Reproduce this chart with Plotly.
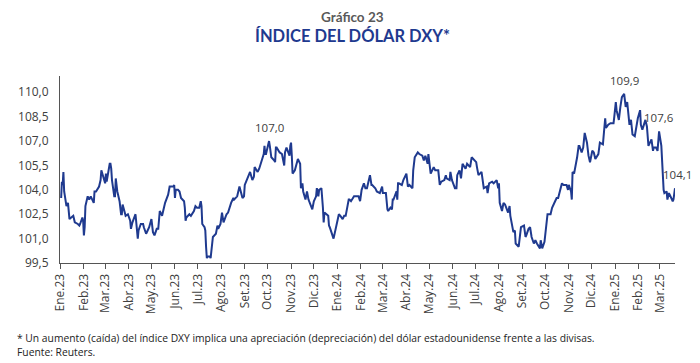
import plotly.graph_objects as go

# ---------------- DATA ----------------
fechas_2023 = ["2023-01-02","2023-01-03","2023-01-04","2023-01-05","2023-01-06","2023-01-09","2023-01-11","2023-01-12","2023-01-13","2023-01-18",
"2023-01-20","2023-01-24","2023-01-26","2023-01-27","2023-01-30","2023-01-31","2023-02-01","2023-02-02","2023-02-03","2023-02-06",
"2023-02-08","2023-02-10","2023-02-14","2023-02-15","2023-02-17","2023-02-21","2023-02-23","2023-02-24","2023-02-27","2023-03-01",
"2023-03-02","2023-03-03","2023-03-07","2023-03-08","2023-03-09","2023-03-10","2023-03-13","2023-03-14","2023-03-15","2023-03-16",
"2023-03-17","2023-03-20","2023-03-22","2023-03-23","2023-03-24","2023-03-28","2023-03-31","2023-04-03","2023-04-04","2023-04-06",
"2023-04-10","2023-04-13","2023-04-14","2023-04-17","2023-04-20","2023-04-21","2023-04-24","2023-04-26","2023-04-28","2023-05-01",
"2023-05-03","2023-05-05","2023-05-08","2023-05-10","2023-05-12","2023-05-15","2023-05-17","2023-05-19","2023-05-23","2023-05-25",
"2023-05-30","2023-05-31","2023-06-01","2023-06-02","2023-06-05","2023-06-07","2023-06-09","2023-06-13","2023-06-14","2023-06-15",
"2023-06-16","2023-06-20","2023-06-22","2023-06-26","2023-06-28","2023-06-30","2023-07-03","2023-07-05","2023-07-06","2023-07-07",
"2023-07-10","2023-07-11","2023-07-12","2023-07-13","2023-07-14","2023-07-17","2023-07-18","2023-07-19","2023-07-21","2023-07-25",
"2023-07-27","2023-07-28","2023-07-31","2023-08-02","2023-08-04","2023-08-08","2023-08-10","2023-08-14","2023-08-17","2023-08-18",
"2023-08-22","2023-08-24","2023-08-25","2023-08-29","2023-08-31","2023-09-01","2023-09-05","2023-09-07","2023-09-08","2023-09-11",
"2023-09-13","2023-09-14","2023-09-18","2023-09-20","2023-09-22","2023-09-25","2023-09-26","2023-09-27","2023-09-28","2023-09-29",
"2023-10-02","2023-10-03","2023-10-04","2023-10-05","2023-10-06","2023-10-10","2023-10-11","2023-10-12","2023-10-13","2023-10-17",
"2023-10-19","2023-10-20","2023-10-23","2023-10-24","2023-10-26","2023-10-30","2023-10-31","2023-11-01","2023-11-02","2023-11-03",
"2023-11-06","2023-11-08","2023-11-10","2023-11-13","2023-11-14","2023-11-16","2023-11-17","2023-11-20","2023-11-22","2023-11-24",
"2023-11-28","2023-11-29","2023-12-01","2023-12-04","2023-12-05","2023-12-07","2023-12-08","2023-12-11","2023-12-13","2023-12-14",
"2023-12-15","2023-12-18","2023-12-20","2023-12-21","2023-12-22","2023-12-27","2023-12-28","2023-12-29"]
dxy_2023 = [103.5,104.5,104.3,105.1,103.9,103.0,103.2,102.2,102.2,102.4,
102.0,101.9,101.8,101.9,102.3,102.1,101.2,101.7,103.0,103.6,
103.4,103.6,103.2,103.9,103.9,104.2,104.6,105.2,104.7,104.4,
105.0,104.5,105.6,105.6,105.3,104.6,103.6,103.6,104.7,104.4,
103.9,103.3,102.5,102.5,103.1,102.4,102.5,102.1,101.6,102.0,
102.5,101.0,101.5,101.9,101.9,101.7,101.3,101.5,101.7,102.2,
101.4,101.2,101.6,101.6,102.7,102.4,102.9,103.2,103.7,104.2,
104.2,104.3,103.5,104.0,104.0,103.9,103.5,103.3,102.9,102.1,
102.3,102.5,102.4,102.7,103.0,102.9,102.9,103.3,103.0,101.9,
101.7,101.5,100.5,99.8,99.9,99.9,99.8,100.3,101.1,101.3,
101.8,101.6,101.9,102.6,102.0,102.5,102.6,103.2,103.5,103.4,
103.6,104.0,104.2,103.5,103.6,104.3,104.8,105.1,105.1,104.6,
104.8,105.4,105.1,105.3,105.6,106.0,106.2,106.7,106.2,106.2,
106.9,107.0,106.7,106.3,106.0,105.8,105.7,106.6,106.6,106.3,
106.2,106.2,105.5,106.3,106.6,106.1,106.7,106.9,106.1,105.0,
105.2,105.6,105.9,105.6,104.1,104.4,103.9,103.4,103.9,103.4,
102.8,102.8,103.3,103.6,104.1,103.6,104.0,104.1,102.9,102.0,
102.6,102.5,102.4,101.8,101.7,101.0,101.2,101.3]

fechas_2024 = ["2024-01-02","2024-01-03","2024-01-05","2024-01-08","2024-01-10","2024-01-12","2024-01-16","2024-01-17","2024-01-19","2024-01-23",
"2024-01-25","2024-01-29","2024-01-31","2024-02-02","2024-02-05","2024-02-07","2024-02-09","2024-02-13","2024-02-15","2024-02-16",
"2024-02-20","2024-02-22","2024-02-26","2024-02-28","2024-02-29","2024-03-01","2024-03-05","2024-03-07","2024-03-08","2024-03-11",
"2024-03-13","2024-03-14","2024-03-15","2024-03-19","2024-03-20","2024-03-21","2024-03-22","2024-03-26","2024-03-28","2024-04-01",
"2024-04-03","2024-04-05","2024-04-09","2024-04-10","2024-04-12","2024-04-16","2024-04-18","2024-04-22","2024-04-24","2024-04-26",
"2024-04-29","2024-04-30","2024-05-01","2024-05-03","2024-05-07","2024-05-09","2024-05-13","2024-05-15","2024-05-17","2024-05-21",
"2024-05-23","2024-05-24","2024-05-28","2024-05-29","2024-05-31","2024-06-04","2024-06-06","2024-06-07","2024-06-10","2024-06-12",
"2024-06-14","2024-06-18","2024-06-20","2024-06-24","2024-06-26","2024-06-28","2024-07-02","2024-07-03","2024-07-05","2024-07-09",
"2024-07-11","2024-07-12","2024-07-16","2024-07-17","2024-07-19","2024-07-23","2024-07-25","2024-07-29","2024-07-31","2024-08-01",
"2024-08-02","2024-08-05","2024-08-07","2024-08-09","2024-08-13","2024-08-15","2024-08-16","2024-08-20","2024-08-22","2024-08-23",
"2024-08-27","2024-08-29","2024-08-30","2024-09-03","2024-09-05","2024-09-06","2024-09-09","2024-09-11","2024-09-13","2024-09-16",
"2024-09-18","2024-09-20","2024-09-24","2024-09-25","2024-09-27","2024-09-30","2024-10-01","2024-10-03","2024-10-04","2024-10-08",
"2024-10-10","2024-10-14","2024-10-16","2024-10-18","2024-10-22","2024-10-23","2024-10-25","2024-10-29","2024-10-31","2024-11-01",
"2024-11-04","2024-11-05","2024-11-06","2024-11-08","2024-11-12","2024-11-14","2024-11-15","2024-11-18","2024-11-20","2024-11-22",
"2024-11-25","2024-11-27","2024-11-29","2024-12-02","2024-12-04","2024-12-06","2024-12-10","2024-12-12","2024-12-16","2024-12-18",
"2024-12-19","2024-12-20","2024-12-23","2024-12-26","2024-12-30","2024-12-31"]
dxy_2024 = [102.2,102.5,102.4,102.2,102.4,102.4,103.4,103.4,103.3,103.6,
103.6,103.6,103.3,104.0,104.4,104.1,104.1,104.9,104.3,104.3,
104.1,103.9,103.8,104.0,104.2,103.8,103.8,102.8,102.7,102.9,
102.8,103.4,103.4,103.9,103.4,104.4,104.4,104.3,104.6,105.0,
104.2,104.3,104.1,105.2,106.0,106.3,106.2,106.1,105.8,106.1,
105.6,106.2,105.7,105.0,105.4,105.2,105.2,104.3,104.5,104.6,
104.9,104.7,104.6,105.1,104.6,104.1,104.1,104.9,105.2,104.7,
105.6,105.3,105.6,105.4,106.0,105.9,105.7,105.4,104.9,105.1,
104.4,104.1,104.2,103.8,104.4,104.5,104.4,104.6,104.1,104.4,
103.2,102.7,103.2,103.1,102.6,103.0,102.4,101.4,101.5,100.7,
100.5,101.3,101.7,101.8,101.1,101.2,101.6,101.7,101.1,100.7,
100.9,100.7,100.4,100.9,100.4,100.8,101.2,101.9,102.5,102.5,
102.9,103.3,103.5,103.5,104.1,104.4,104.3,104.3,104.0,104.3,
103.9,103.4,105.1,105.0,106.0,106.7,106.7,106.3,106.6,107.5,
106.9,106.1,105.7,106.4,106.3,105.9,106.2,106.9,106.8,108.0,
108.4,107.8,108.0,108.1,108.1,108.5]

fechas_2025 = ["2025-01-02","2025-01-03","2025-01-06","2025-01-08","2025-01-10","2025-01-13","2025-01-14","2025-01-15","2025-01-17","2025-01-20",
"2025-01-22","2025-01-24","2025-01-27","2025-01-29","2025-01-31","2025-02-03","2025-02-04","2025-02-06","2025-02-10","2025-02-12",
"2025-02-14","2025-02-18","2025-02-20","2025-02-21","2025-02-24","2025-02-26","2025-02-27","2025-02-28","2025-03-03","2025-03-04",
"2025-03-05","2025-03-06","2025-03-07","2025-03-10","2025-03-11","2025-03-13","2025-03-14","2025-03-17","2025-03-18","2025-03-19",
"2025-03-20","2025-03-21"]
dxy_2025 = [109.4,108.9,108.3,109.1,109.7,109.9,109.2,109.1,109.4,108.0,
108.3,107.4,107.3,108.0,108.4,108.9,108.0,107.7,108.3,107.9,
106.7,107.1,106.4,106.6,106.6,106.4,107.2,107.6,106.7,105.7,
104.3,104.0,103.8,103.9,103.4,103.8,103.7,103.4,103.3,103.4,
103.8,104.1]

meses = ["2023-01-01","2023-02-01","2023-03-01","2023-04-01","2023-05-01","2023-06-01","2023-07-01","2023-08-01","2023-09-01",
         "2023-10-01","2023-11-01","2023-12-01","2024-01-01","2024-02-01","2024-03-01","2024-04-01","2024-05-01","2024-06-01",
         "2024-07-01","2024-08-01","2024-09-01","2024-10-01","2024-11-01","2024-12-01","2025-01-01","2025-02-01","2025-03-01"]
etiquetas_meses = ["Ene.23","Feb.23","Mar.23","Abr.23","May.23","Jun.23","Jul.23","Ago.23","Set.23","Oct.23","Nov.23","Dic.23",
                   "Ene.24","Feb.24","Mar.24","Abr.24","May.24","Jun.24","Jul.24","Ago.24","Set.24","Oct.24","Nov.24","Dic.24",
                   "Ene.25","Feb.25","Mar.25"]
y_ticks = [99.5, 101.0, 102.5, 104.0, 105.5, 107.0, 108.5, 110.0]

etiq_fechas = ["2023-10-03", "2025-01-13", "2025-02-28", "2025-03-21"]
etiq_valores = [107.0, 109.9, 107.6, 104.1]
etiq_textos = ["107,0", "109,9", "107,6", "104,1"]

fechas = fechas_2023 + fechas_2024 + fechas_2025
dxy = dxy_2023 + dxy_2024 + dxy_2025

# ---------------- FIGURE ----------------
AZUL = "#1F3A8F"
GRIS = "#404040"
FONT = "Open Sans"

fig = go.Figure()
fig.add_trace(go.Scatter(x=fechas, y=dxy, mode="lines",
                         line=dict(color=AZUL, width=2), hoverinfo="x+y"))

for f, v, t in zip(etiq_fechas, etiq_valores, etiq_textos):
    dx = 2 if t == "104,1" else 0
    fig.add_annotation(x=f, y=v, xref="x", yref="y", text=t, showarrow=False,
                       yanchor="bottom", yshift=4, xshift=dx,
                       font=dict(family=FONT, size=11.5, color=GRIS))

fig.add_annotation(xref="paper", yref="paper", x=(352 - 60) / 615, y=1, yshift=59,
                   text="<b>Gráfico 23</b>", showarrow=False, xanchor="center", yanchor="middle",
                   font=dict(family="Lato", size=13.5, color="#595959"))
fig.add_annotation(xref="paper", yref="paper", x=(352 - 60) / 615, y=1, yshift=40,
                   text="<b>ÍNDICE DEL DÓLAR DXY*</b>", showarrow=False, xanchor="center", yanchor="middle",
                   font=dict(family="Lato", size=16.5, color=AZUL))
fig.add_annotation(xref="paper", yref="paper", x=0, y=0, xshift=-45, yshift=-74.5,
                   text="* Un aumento (caída) del índice DXY implica una apreciación (depreciación) del dólar estadounidense frente a las divisas.",
                   showarrow=False, xanchor="left", yanchor="middle",
                   font=dict(family=FONT, size=10.3, color="#222222"))
fig.add_annotation(xref="paper", yref="paper", x=0, y=0, xshift=-45, yshift=-89,
                   text="Fuente: Reuters.", showarrow=False, xanchor="left", yanchor="middle",
                   font=dict(family=FONT, size=10.3, color="#222222"))

fig.update_layout(
    width=700, height=363,
    margin=dict(l=60, r=25, t=76, b=100),
    paper_bgcolor="white", plot_bgcolor="white",
    showlegend=False, separators=",.",
    font=dict(family=FONT, size=12, color=GRIS),
)
fig.update_xaxes(
    type="date", range=["2022-12-31 12:00", "2025-03-21"],
    tickmode="array", tickvals=meses, ticktext=etiquetas_meses,
    tickangle=-90, ticks="outside", ticklen=5, tickcolor="#555555",
    showline=True, linecolor="#555555", linewidth=1,
    showgrid=False, zeroline=False,
    tickfont=dict(family=FONT, size=12, color=GRIS),
)
fig.update_yaxes(
    range=[99.5, 111.0], tickmode="array", tickvals=y_ticks, tickformat=".1f",
    ticks="", showline=True, linecolor="#555555", linewidth=1,
    showgrid=False, zeroline=False, ticklabelstandoff=8,
    tickfont=dict(family=FONT, size=12, color=GRIS),
)

fig.write_html("out.html", config={"displayModeBar": False},
               post_script="document.body.style.margin='0';document.body.style.overflow='hidden';")
